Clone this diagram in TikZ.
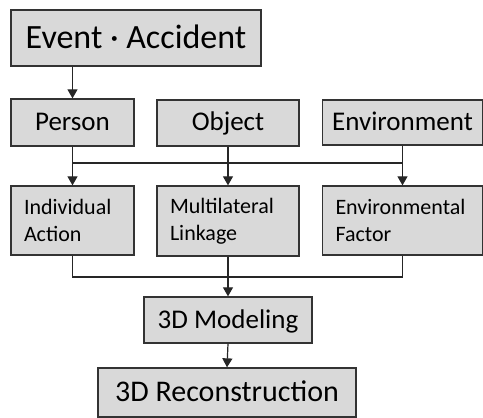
\documentclass[tikz,border=0pt]{standalone}
\usepackage{fontspec}
\setmainfont{Carlito}
\usetikzlibrary{arrows.meta}

\begin{document}
\begin{tikzpicture}[x=1pt,y=-1pt,
    box/.style={draw=black!80,line width=1.3pt,fill=black!15,inner sep=0pt},
    linebox/.style={box,text height=20pt,text depth=5pt,font=\fontsize{27}{32}\selectfont},
    sidebox/.style={box,align=left,inner xsep=13pt,minimum height=69pt,font=\fontsize{22}{27}\selectfont},
    arr/.style={-{Triangle[width=10pt,length=9pt]},line width=1.2pt,draw=black!85},
    link/.style={line width=1.2pt,draw=black!85}]
  \useasboundingbox (0,0) rectangle (483,418);
  % Top
  \node[linebox,minimum width=250pt,minimum height=56pt,text height=26pt,text depth=6pt,font=\fontsize{34}{40}\selectfont] (event) at (136,38) {Event · Accident};
  % First row
  \node[linebox,minimum width=123pt,minimum height=47pt] (person) at (72.5,122.5) {Person};
  \node[linebox,minimum width=142pt,minimum height=46pt] (object) at (228,123) {Object};
  \node[linebox,minimum width=160pt,minimum height=45pt] (environ) at (402.5,122.5) {Environment};
  % Second row
  \node[sidebox,text width=97pt] (indiv) at (72.5,220.5) {Individual\\Action};
  \node[sidebox,text width=116pt,minimum height=70pt] (multi) at (228,221) {Multilateral\\Linkage};
  \node[sidebox,text width=134pt] (envfac) at (402.5,220.5) {Environmental\\Factor};
  % Bottom
  \node[linebox,minimum width=168pt,minimum height=46pt,text height=21pt] (model) at (228,320) {3D Modeling};
  \node[linebox,minimum width=258pt,minimum height=49pt,text height=23pt,font=\fontsize{30}{36}\selectfont] (recon) at (227,392.5) {3D Reconstruction};
  % Connectors
  \coordinate (split) at (0,163);
  \coordinate (join) at (0,277);
  \draw[arr] (person.north |- event.south) -- (person.north);
  \draw[arr] (person.south) -- (indiv.north);
  \draw[arr] (object.south) -- (multi.north);
  \draw[arr] (environ.south) -- (envfac.north);
  \draw[link] (person.south |- split) -- (environ.south |- split);
  \draw[link] (indiv.south) -- (indiv.south |- join) -- (envfac.south |- join) -- (envfac.south);
  \draw[arr] (multi.south) -- (model.north);
  \draw[arr] (model.south) -- (recon.north);
\end{tikzpicture}
\end{document}
